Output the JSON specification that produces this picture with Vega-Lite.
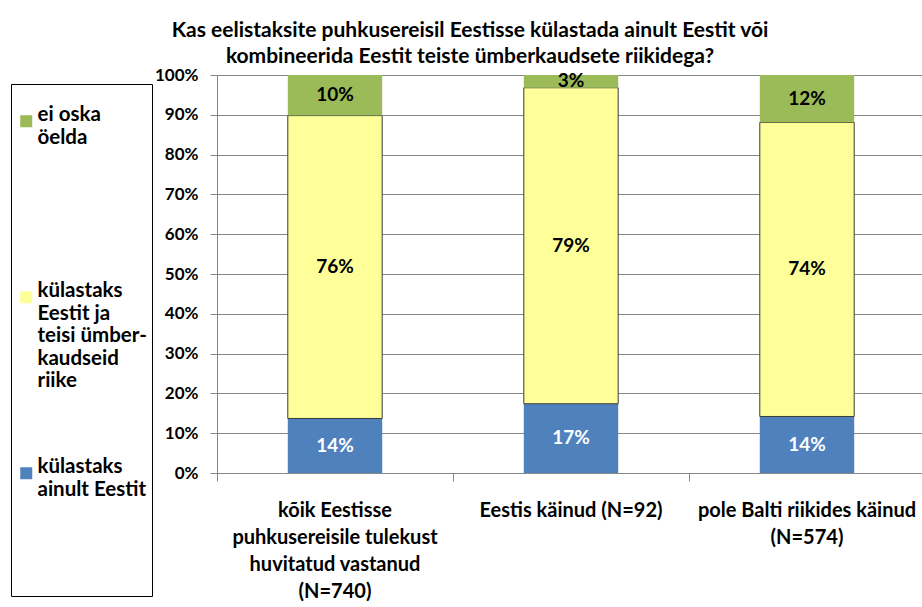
{
  "$schema": "https://vega.github.io/schema/vega-lite/v6.json",
  "width": 708,
  "height": 398,
  "autosize": "none",
  "padding": {"left": 217, "top": 75, "right": 0, "bottom": 134},
  "background": "white",
  "title": {
    "text": ["Kas eelistaksite puhkusereisil Eestisse külastada ainult Eestit või", "kombineerida Eestit teiste ümberkaudsete riikidega?"],
    "font": "Lato",
    "fontSize": 21,
    "fontWeight": "bold",
    "lineHeight": 26,
    "anchor": "middle",
    "frame": "group",
    "dx": -101,
    "dy": 3,
    "offset": 2,
    "color": "black"
  },
  "data": {
    "values": [
      {"group": "kõik Eestisse puhkusereisile tulekust huvitatud vastanud (N=740)", "answer": "külastaks ainult Eestit", "share": 0.137},
      {"group": "kõik Eestisse puhkusereisile tulekust huvitatud vastanud (N=740)", "answer": "külastaks Eestit ja teisi ümberkaudseid riike", "share": 0.761},
      {"group": "kõik Eestisse puhkusereisile tulekust huvitatud vastanud (N=740)", "answer": "ei oska öelda", "share": 0.102},
      {"group": "Eestis käinud (N=92)", "answer": "külastaks ainult Eestit", "share": 0.174},
      {"group": "Eestis käinud (N=92)", "answer": "külastaks Eestit ja teisi ümberkaudseid riike", "share": 0.794},
      {"group": "Eestis käinud (N=92)", "answer": "ei oska öelda", "share": 0.032},
      {"group": "pole Balti riikides käinud (N=574)", "answer": "külastaks ainult Eestit", "share": 0.142},
      {"group": "pole Balti riikides käinud (N=574)", "answer": "külastaks Eestit ja teisi ümberkaudseid riike", "share": 0.739},
      {"group": "pole Balti riikides käinud (N=574)", "answer": "ei oska öelda", "share": 0.119}
    ]
  },
  "transform": [
    {"stack": "share", "groupby": ["group"], "sort": [{"field": "answer", "order": "descending"}], "as": ["y0", "y1"]},
    {"calculate": "(datum.y0 + datum.y1) / 2", "as": "ymid"}
  ],
  "encoding": {
    "x": {
      "field": "group",
      "type": "nominal",
      "sort": null,
      "scale": {"paddingInner": 0, "paddingOuter": 0},
      "axis": {
        "title": null,
        "bandPosition": 0,
        "labelAngle": 0,
        "labelFont": "Lato",
        "labelFontSize": 20,
        "labelFontWeight": "bold",
        "labelColor": "black",
        "labelBaseline": "top",
        "labelLineHeight": 27,
        "labelPadding": 19,
        "labelLimit": 400,
        "labelExpr": "datum.label == 'Eestis käinud (N=92)' ? 'Eestis käinud (N=92)' : datum.label == 'pole Balti riikides käinud (N=574)' ? ['pole Balti riikides käinud', '(N=574)'] : ['kõik Eestisse', 'puhkusereisile tulekust', 'huvitatud vastanud', '(N=740)']",
        "tickSize": 8,
        "tickColor": "#868686",
        "domainColor": "#868686",
        "grid": false
      }
    }
  },
  "layer": [
    {
      "mark": {"type": "bar", "width": {"band": 0.4}, "strokeWidth": 1},
      "encoding": {
        "y": {
          "field": "y0",
          "type": "quantitative",
          "scale": {"domain": [0, 1], "nice": false},
          "axis": {
            "title": null,
            "values": [0, 0.1, 0.2, 0.3, 0.4, 0.5, 0.6, 0.7, 0.8, 0.9, 1],
            "format": ".0%",
            "labelFont": "Lato",
            "labelFontSize": 17,
            "labelFontWeight": "bold",
            "labelColor": "black",
            "labelPadding": 12,
            "labelOverlap": false,
            "tickSize": 7,
            "tickColor": "#868686",
            "domainColor": "#868686",
            "gridColor": "#868686",
            "grid": true
          }
        },
        "y2": {"field": "y1"},
        "color": {
          "field": "answer",
          "type": "nominal",
          "scale": {
            "domain": ["ei oska öelda", "külastaks Eestit ja teisi ümberkaudseid riike", "külastaks ainult Eestit"],
            "range": ["#9BBB59", "#FFFF99", "#4F81BD"]
          },
          "legend": {
            "title": " ",
            "titleFontSize": 10,
            "titlePadding": 12,
            "orient": "none",
            "legendX": -206,
            "legendY": 9,
            "strokeColor": "#000000",
            "padding": 5,
            "symbolType": "square",
            "symbolSize": 144,
            "symbolStrokeWidth": 0,
            "labelFont": "Lato",
            "labelFontSize": 20.5,
            "labelFontWeight": "bold",
            "labelColor": "black",
            "labelBaseline": "alphabetic",
            "labelOffset": 1,
            "labelLimit": 300,
            "rowPadding": 42,
            "labelExpr": "datum.label == 'ei oska öelda' ? ['ei oska', 'öelda', '', '', '', ''] : datum.label == 'külastaks ainult Eestit' ? ['külastaks', 'ainult Eestit', '', '', '', ''] : ['külastaks', 'Eestit ja', 'teisi ümber-', 'kaudseid', 'riike', '']",
            "encode": {
              "labels": {"lineHeight": {"value": 27}, "dy": {"value": 15}},
              "symbols": {"stroke": {"signal": "datum.value == 'külastaks Eestit ja teisi ümberkaudseid riike' ? '#404040' : 'transparent'"}, "strokeWidth": {"value": 1}}
            }
          }
        },
        "stroke": {
          "condition": {"test": "datum.answer == 'külastaks Eestit ja teisi ümberkaudseid riike'", "value": "#3a3a3a"},
          "value": "transparent"
        }
      }
    },
    {
      "mark": {"type": "text", "font": "Lato", "fontSize": 19, "fontWeight": "bold", "baseline": "middle"},
      "encoding": {
        "y": {
          "field": "ymid",
          "type": "quantitative",
          "axis": {
            "title": null,
            "values": [0, 0.1, 0.2, 0.3, 0.4, 0.5, 0.6, 0.7, 0.8, 0.9, 1],
            "format": ".0%",
            "labelFont": "Lato",
            "labelFontSize": 17,
            "labelFontWeight": "bold",
            "labelColor": "black",
            "labelPadding": 12,
            "labelOverlap": false,
            "tickSize": 7,
            "tickColor": "#868686",
            "domainColor": "#868686",
            "gridColor": "#868686",
            "grid": true
          }
        },
        "text": {"field": "share", "type": "quantitative", "format": ".0%"},
        "color": {
          "condition": {"test": "datum.answer == 'külastaks ainult Eestit'", "value": "white"},
          "value": "black"
        }
      }
    }
  ],
  "config": {
    "view": {"stroke": null}
  }
}
